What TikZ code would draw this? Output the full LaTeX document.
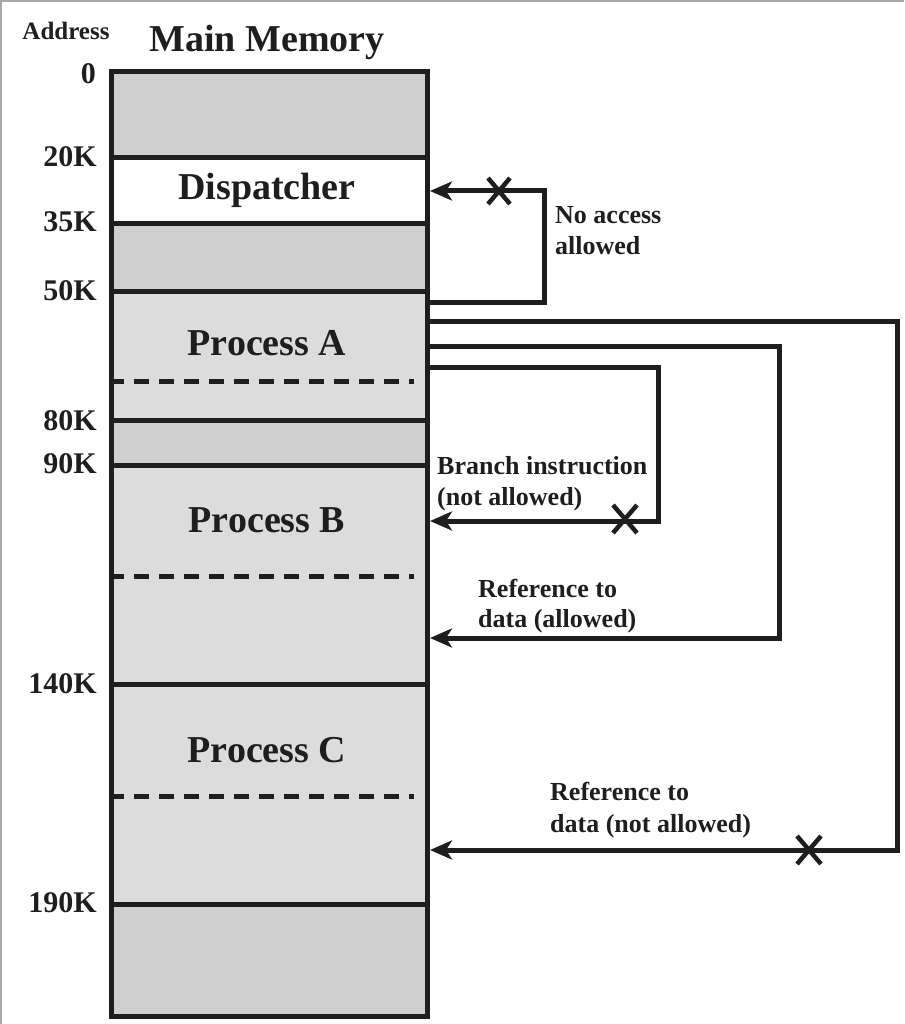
\documentclass[tikz,border=0pt]{standalone}
\usepackage{fontspec}
\setmainfont{Liberation Serif}
\usetikzlibrary{arrows.meta}
\definecolor{ink}{HTML}{1E1E1E}
\definecolor{freegray}{HTML}{CFCFCF}
\definecolor{procgray}{HTML}{DCDCDC}
\definecolor{framegray}{HTML}{A8A8A8}
\begin{document}
\begin{tikzpicture}[x=1pt,y=-1pt,
  sep/.style={draw=ink, line width=5pt},
  dashsep/.style={draw=ink, line width=5pt, dash pattern=on 15pt off 10pt},
  addr/.style={font=\fontsize{30}{30}\bfseries\selectfont, anchor=base east, text=ink, inner sep=0pt},
  bigtitle/.style={font=\fontsize{38}{38}\bfseries\selectfont, anchor=base, text=ink, inner sep=0pt},
  smalltitle/.style={font=\fontsize{25}{25}\bfseries\selectfont, anchor=base, text=ink, inner sep=0pt},
  note/.style={font=\fontsize{26}{26}\bfseries\selectfont, anchor=base west, text=ink, inner sep=0pt},
  link/.style={draw=ink, line width=5pt, line join=miter, -{Stealth[length=22pt,width=19pt,inset=6pt]}},
  cross/.style={draw=ink, line width=4.5pt},
]
\useasboundingbox (0,0) rectangle (904,1024);
\fill[white] (0,0) rectangle (904,1024);
\draw[framegray, line width=2pt] (1,1024) -- (1,1) -- (904,1);

% memory regions
\fill[freegray] (111.5,71.5) rectangle (427.5,158);
\fill[white] (111.5,158) rectangle (427.5,224);
\fill[freegray] (111.5,224) rectangle (427.5,291);
\fill[procgray] (111.5,291) rectangle (427.5,420);
\fill[freegray] (111.5,420) rectangle (427.5,465);
\fill[procgray] (111.5,465) rectangle (427.5,904);
\fill[freegray] (111.5,904) rectangle (427.5,1016);

% separators
\draw[sep] (111.5,158) -- (427.5,158);
\draw[sep] (111.5,224) -- (427.5,224);
\draw[sep] (111.5,291) -- (427.5,291);
\draw[sep] (111.5,420) -- (427.5,420);
\draw[sep] (111.5,465) -- (427.5,465);
\draw[sep] (111.5,684) -- (427.5,684);
\draw[sep] (111.5,904) -- (427.5,904);
\draw[dashsep] (109,381) -- (414,381);
\draw[dashsep] (109,576) -- (414,576);
\draw[dashsep] (109,796) -- (414,796);
\draw[sep] (111.5,71.5) rectangle (427.5,1016);

% titles
\node[smalltitle] (addrhead) at (66,40) {Address};
\node[bigtitle] (mmhead) at (267,52) {Main Memory};

% address labels
\node[addr] (a0) at (96,84) {0};
\node[addr] (a20) at (97,167) {20K};
\node[addr] (a35) at (97,232) {35K};
\node[addr] (a50) at (97,300) {50K};
\node[addr] (a80) at (97,430) {80K};
\node[addr] (a90) at (97,473) {90K};
\node[addr] (a140) at (97,693) {140K};
\node[addr] (a190) at (97,912) {190K};

% region names
\node[bigtitle] (disp) at (267,200) {Dispatcher};
\node[bigtitle] (pa) at (267,355) {Process A};
\node[bigtitle] (pb) at (267,532) {Process B};
\node[bigtitle] (pc) at (267,762) {Process C};

% connector coordinates
\coordinate (s1) at (427.5,302);
\coordinate (k1a) at (544,302);
\coordinate (k1b) at (544,191);
\coordinate (e1) at (430,191);

\coordinate (s2) at (427.5,321);
\coordinate (k2a) at (897,321);
\coordinate (k2b) at (897,850);
\coordinate (e2) at (430,850);

\coordinate (s3) at (427.5,346);
\coordinate (k3a) at (779,346);
\coordinate (k3b) at (779,638);
\coordinate (e3) at (430,638);

\coordinate (s4) at (427.5,367);
\coordinate (k4a) at (658,367);
\coordinate (k4b) at (658,521);
\coordinate (e4) at (430,521);

\draw[link] (s1) -- (k1a) -- (k1b) -- (e1);
\draw[link] (s2) -- (k2a) -- (k2b) -- (e2);
\draw[link] (s3) -- (k3a) -- (k3b) -- (e3);
\draw[link] (s4) -- (k4a) -- (k4b) -- (e4);

% crosses
\coordinate (x1) at (499,191);
\coordinate (x2) at (809,850);
\coordinate (x4) at (625,519);
\draw[cross] (x1) ++(-11,-13) -- ++(22,26) (x1) ++(-11,13) -- ++(22,-26);
\draw[cross] (x2) ++(-12,-14) -- ++(24,28) (x2) ++(-12,14) -- ++(24,-28);
\draw[cross] (x4) ++(-12,-14) -- ++(24,28) (x4) ++(-12,14) -- ++(24,-28);

% notes
\node[note] (n1a) at (555,223) {No access};
\node[note] (n1b) at (555,254) {allowed};
\node[note] (n4a) at (437,474) {Branch instruction};
\node[note] (n4b) at (437,505) {(not allowed)};
\node[note] (n3a) at (478,597) {Reference to};
\node[note] (n3b) at (478,627) {data (allowed)};
\node[note] (n2a) at (550,800) {Reference to};
\node[note] (n2b) at (550,832) {data (not allowed)};
\end{tikzpicture}
\end{document}
